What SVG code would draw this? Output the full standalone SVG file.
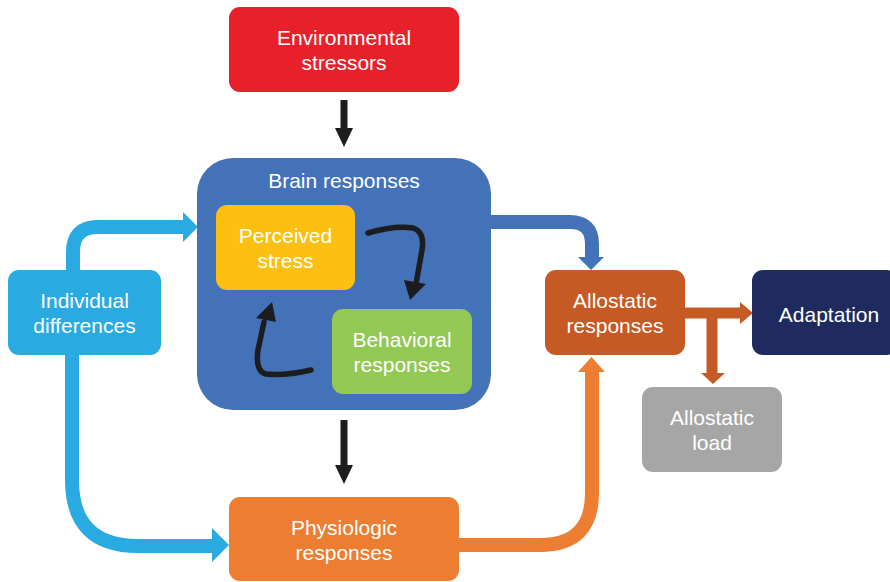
<svg xmlns="http://www.w3.org/2000/svg" width="890" height="582" viewBox="0 0 890 582">
<style>
text{font-family:"Liberation Sans",Arial,sans-serif;font-size:21px;fill:#fff;text-anchor:middle}
.blk{fill:none;stroke:#1d1d1f;stroke-width:5.5;stroke-linecap:round}
</style>
<rect width="890" height="582" fill="#fff"/>
<g id="connectors">
  <path d="M340.5 100 H347.5 V128 H353 L344 147 L335 128 H340.5 Z" fill="#1d1d1f"/>
  <path d="M340.5 420 H347.5 V465 H353 L344 484 L335 465 H340.5 Z" fill="#1d1d1f"/>
  <path d="M73 270 V252 Q73 227 98 227 H185" fill="none" stroke="#29ABE2" stroke-width="14"/>
  <path d="M183 212 L198 227 L183 242 Z" fill="#29ABE2"/>
  <path d="M72 355 V480 Q72 546 138 546 H214" fill="none" stroke="#29ABE2" stroke-width="14"/>
  <path d="M212 528 L229 545 L212 562 Z" fill="#29ABE2"/>
  <path d="M490 222 H570 Q592 222 592 244 V259" fill="none" stroke="#4472B8" stroke-width="14"/>
  <path d="M578 257 L604 257 L591 270 Z" fill="#4472B8"/>
  <path d="M458 545 H540 Q592 545 592 493 V370" fill="none" stroke="#ED7D31" stroke-width="14"/>
  <path d="M578 372 L605 372 L591.5 357 Z" fill="#ED7D31"/>
  <path d="M684 313 H742" fill="none" stroke="#C55A24" stroke-width="11"/>
  <path d="M740 302 L753 313 L740 324 Z" fill="#C55A24"/>
  <path d="M712 313 V375" fill="none" stroke="#C55A24" stroke-width="11"/>
  <path d="M701 373 L725 373 L713 384 Z" fill="#C55A24"/>
</g>
<g id="brain">
  <rect x="197" y="158" width="294" height="252" rx="36" fill="#4472B8"/>
  <text x="344" y="188">Brain responses</text>
</g>
<g id="perceived">
  <rect x="216" y="205" width="139" height="85" rx="11" fill="#FDC010"/>
  <text x="285.5" y="243">Perceived</text>
  <text x="285.5" y="268">stress</text>
</g>
<g id="behavioral">
  <rect x="332" y="309" width="140" height="85" rx="11" fill="#92C853"/>
  <text x="402" y="347">Behavioral</text>
  <text x="402" y="372">responses</text>
</g>
<g id="loop">
  <path class="blk" d="M368 233 Q395 225 413 228 Q425 232 422 250 L416 284"/>
  <path d="M404 280 L426 284 L410 300 Z" fill="#1d1d1f"/>
  <path class="blk" d="M311 370 Q285 376 266 374 Q255 371 258 350 L264 322"/>
  <path d="M256 318 L276 322 L272 302 Z" fill="#1d1d1f"/>
</g>
<g id="environmental">
  <rect x="229" y="7" width="230" height="85" rx="11" fill="#E8202A"/>
  <text x="344" y="45">Environmental</text>
  <text x="344" y="70">stressors</text>
</g>
<g id="individual">
  <rect x="8" y="270" width="153" height="85" rx="11" fill="#29ABE2"/>
  <text x="84.5" y="308">Individual</text>
  <text x="84.5" y="333">differences</text>
</g>
<g id="physiologic">
  <rect x="229" y="497" width="230" height="84" rx="11" fill="#ED7D31"/>
  <text x="344" y="535">Physiologic</text>
  <text x="344" y="560">responses</text>
</g>
<g id="allostatic">
  <rect x="545" y="270" width="140" height="85" rx="11" fill="#C55A24"/>
  <text x="615" y="308">Allostatic</text>
  <text x="615" y="333">responses</text>
</g>
<g id="adaptation">
  <rect x="752" y="270" width="146" height="85" rx="11" fill="#1F2A5E"/>
  <text x="829" y="322">Adaptation</text>
</g>
<g id="load">
  <rect x="642" y="387" width="140" height="85" rx="11" fill="#A6A6A6"/>
  <text x="712" y="425">Allostatic</text>
  <text x="712" y="450">load</text>
</g>
</svg>
